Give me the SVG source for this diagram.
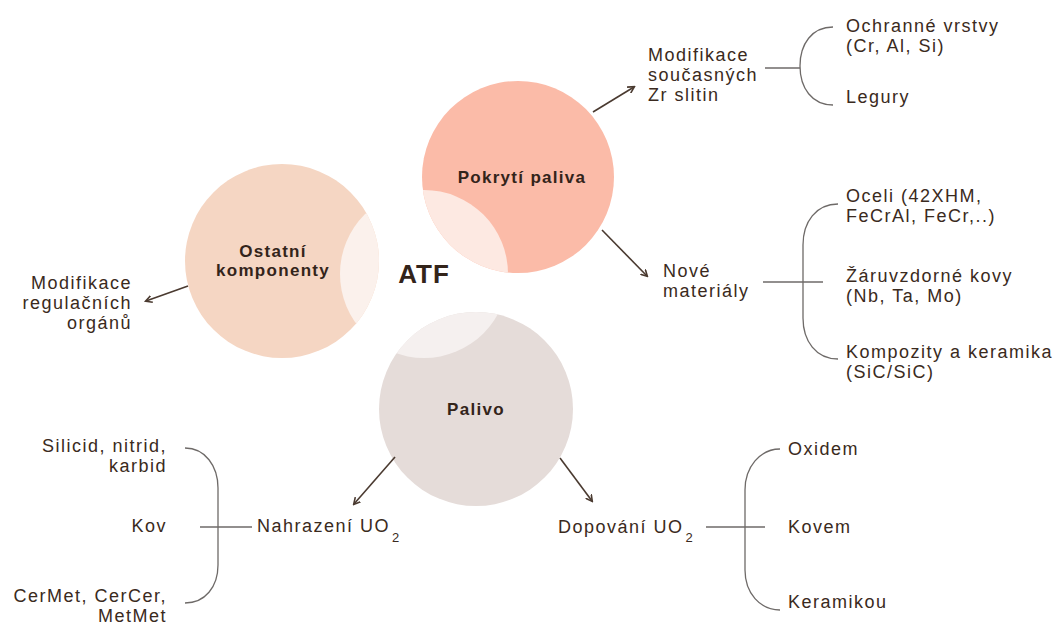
<svg xmlns="http://www.w3.org/2000/svg" width="1058" height="625" viewBox="0 0 1058 625">
<style>
.t{font-family:"Liberation Sans",Arial,sans-serif;font-size:18px;fill:#3a2a20;letter-spacing:1.5px}
.b{font-family:"Liberation Sans",Arial,sans-serif;font-size:17px;font-weight:bold;fill:#33241a;letter-spacing:1.3px}
.sub{font-size:13px}
.br{fill:none;stroke:#6e6a68;stroke-width:1.3}
.ar{fill:none;stroke:#4a3a30;stroke-width:1.6;marker-end:url(#ah)}
</style>
<defs>
<marker id="ah" markerWidth="8" markerHeight="8" refX="6" refY="4" orient="auto" markerUnits="userSpaceOnUse">
<path d="M0,0.5 L6.5,4 L0,7.5" fill="none" stroke="#4a3a30" stroke-width="1.6"/>
</marker>
<clipPath id="center"><circle cx="424" cy="274" r="84"/></clipPath>
</defs>
<rect width="1058" height="625" fill="#ffffff"/>

<g id="ostatni">
<circle cx="282" cy="261" r="97" fill="#f5d6c3"/>
<circle cx="282" cy="261" r="97" fill="#fbf1ec" clip-path="url(#center)"/>
<text class="b" x="273" y="257" text-anchor="middle">Ostatní</text>
<text class="b" x="273" y="276" text-anchor="middle">komponenty</text>
</g>
<g id="pokryti">
<circle cx="518" cy="177" r="96" fill="#fbbba8"/>
<circle cx="518" cy="177" r="96" fill="#fde9e2" clip-path="url(#center)"/>
<text class="b" x="522" y="183" text-anchor="middle">Pokrytí paliva</text>
</g>
<g id="palivo">
<circle cx="476" cy="409" r="97" fill="#e5dcd9"/>
<circle cx="476" cy="409" r="97" fill="#f5f0ef" clip-path="url(#center)"/>
<text class="b" x="476" y="415" text-anchor="middle">Palivo</text>
</g>
<g id="atf">
<text class="b" x="424" y="283" text-anchor="middle" style="font-size:26px;letter-spacing:1px">ATF</text>
</g>

<g id="connectors">
<path class="ar" d="M593,112 L634,87"/>
<path class="ar" d="M602,230 L647,276"/>
<path class="ar" d="M188,286 L146,301"/>
<path class="ar" d="M395,457 L354,504"/>
<path class="ar" d="M560,458 L592,501"/>
<path class="br" d="M765,68 L800,68"/>
<path class="br" d="M833,27 C812,27 800,44 800,66 C800,88 812,105 833,105"/>
<path class="br" d="M763,282 L823,282"/>
<path class="br" d="M838,204 C816,204 803,222 803,245 L803,318 C803,341 816,359 838,359"/>
<path class="br" d="M200,527 L252,527"/>
<path class="br" d="M185,448 C205,448 218,466 218,488 L218,565 C218,587 205,603 185,603"/>
<path class="br" d="M706,527 L765,527"/>
<path class="br" d="M780,449 C760,449 745,467 745,490 L745,570 C745,593 760,610 780,610"/>
</g>

<g id="zr">
<text class="t" x="648" y="61">Modifikace</text>
<text class="t" x="648" y="81">současných</text>
<text class="t" x="648" y="101">Zr slitin</text>
</g>
<g id="ochranne">
<text class="t" x="846" y="32">Ochranné vrstvy</text>
<text class="t" x="846" y="52">(Cr, Al, Si)</text>
</g>
<g id="legury"><text class="t" x="846" y="103">Legury</text></g>
<g id="nove">
<text class="t" x="663" y="277">Nové</text>
<text class="t" x="663" y="297">materiály</text>
</g>
<g id="oceli">
<text class="t" x="846" y="202">Oceli (42XHM,</text>
<text class="t" x="846" y="222">FeCrAl, FeCr,..)</text>
</g>
<g id="zaruvzdorne">
<text class="t" x="846" y="282">Žáruvzdorné kovy</text>
<text class="t" x="846" y="302">(Nb, Ta, Mo)</text>
</g>
<g id="kompozity">
<text class="t" x="846" y="358">Kompozity a keramika</text>
<text class="t" x="846" y="378">(SiC/SiC)</text>
</g>
<g id="regulacni">
<text class="t" x="132" y="289" text-anchor="end">Modifikace</text>
<text class="t" x="132" y="309" text-anchor="end">regulačních</text>
<text class="t" x="132" y="329" text-anchor="end">orgánů</text>
</g>
<g id="nahrazeni"><text class="t" x="257" y="532">Nahrazení UO<tspan class="sub" dx="2" dy="10">2</tspan></text></g>
<g id="silicid">
<text class="t" x="167" y="452" text-anchor="end">Silicid, nitrid,</text>
<text class="t" x="167" y="472" text-anchor="end">karbid</text>
</g>
<g id="kov"><text class="t" x="167" y="532" text-anchor="end">Kov</text></g>
<g id="cermet">
<text class="t" x="167" y="602" text-anchor="end">CerMet, CerCer,</text>
<text class="t" x="167" y="622" text-anchor="end">MetMet</text>
</g>
<g id="dopovani"><text class="t" x="558" y="533">Dopování UO<tspan class="sub" dx="2" dy="9">2</tspan></text></g>
<g id="oxidem"><text class="t" x="788" y="455">Oxidem</text></g>
<g id="kovem"><text class="t" x="788" y="533">Kovem</text></g>
<g id="keramikou"><text class="t" x="788" y="608">Keramikou</text></g>
</svg>
